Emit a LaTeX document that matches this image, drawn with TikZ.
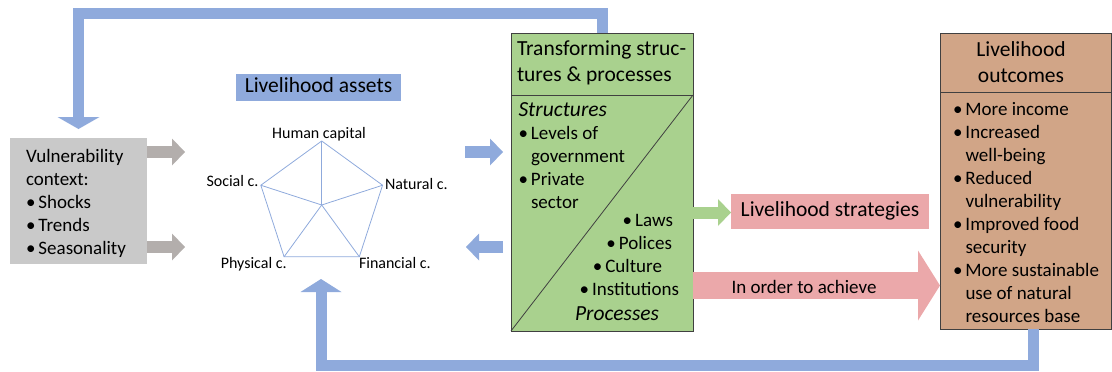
\documentclass[tikz,border=0pt]{standalone}
\usepackage{fontspec}
\setmainfont{Carlito}
\usetikzlibrary{arrows.meta}
\definecolor{fbblue}{HTML}{8FAADC}
\definecolor{grayarrow}{HTML}{B3AEAC}
\definecolor{vulfill}{HTML}{C9C9C9}
\definecolor{greenfill}{HTML}{A9D18E}
\definecolor{pinkfill}{HTML}{EBA8AA}
\definecolor{tanfill}{HTML}{D1A587}
\definecolor{boxborder}{HTML}{404040}
\newcommand{\bitem}[1]{\makebox[12.5pt][l]{\textbullet}#1}
\newcommand{\bcont}[1]{\hspace*{12.5pt}#1}
\newcommand{\bodyfont}{\fontsize{19}{23}\selectfont}
\newcommand{\titlefont}{\fontsize{21.5}{26}\selectfont}
\newcommand{\labfont}{\fontsize{16}{19}\selectfont}
\begin{document}
\begin{tikzpicture}[x=1pt,y=-1pt,
  plainbox/.style={draw=none,inner sep=0pt,outer sep=0pt},
  bigbox/.style={draw=boxborder,line width=1pt,inner sep=0pt,outer sep=0pt},
  txt/.style={inner sep=0pt,outer sep=0pt,anchor=base west},
  fb/.style={draw=fbblue,line width=11pt,line join=miter,line cap=butt},
  blockarr/.style={line width=12pt,-{Triangle[width=27pt,length=13pt,line width=0pt]}},
  pent/.style={draw=fbblue,line width=0.8pt}]
\useasboundingbox (0,0) rectangle (1112,372);

% main boxes
\node[plainbox,fill=vulfill,minimum width=137pt,minimum height=126pt] (vul) at (78.5,201) {};
\node[bigbox,fill=greenfill,minimum width=182pt,minimum height=298pt] (green) at (602,182) {};
\node[bigbox,fill=tanfill,minimum width=171pt,minimum height=296pt] (outc) at (1025.5,181) {};
\node[plainbox,fill=fbblue,minimum width=165pt,minimum height=27pt,text height=14pt,text depth=3.6pt,font=\titlefont] (assets) at (318.5,87.5) {Livelihood assets};
\node[plainbox,fill=pinkfill,minimum width=198pt,minimum height=35pt,text height=14pt,text depth=4pt,font=\titlefont] (strat) at (830,211.5) {Livelihood strategies};

% dividers in boxes
\coordinate (gdiv) at (602,95);
\draw[boxborder,line width=1pt] (green.west |- gdiv) -- (green.east |- gdiv);
\draw[boxborder,line width=0.8pt] (green.south west) -- (green.east |- gdiv);
\coordinate (odiv) at (1025,92);
\draw[boxborder,line width=1pt] (outc.west |- odiv) -- (outc.east |- odiv);

% vulnerability text
\node[txt] (vultxt) at (26,162) {\parbox[t]{120pt}{\raggedright\bodyfont Vulnerability\\context:\\\bitem{Shocks}\\\bitem{Trends}\\\bitem{Seasonality}}};

% green box text
\node[txt] (gtitle) at (517,55.5) {\parbox[t]{175pt}{\raggedright\titlefont Transforming struc-\\tures \& processes}};
\node[txt] (gstruct) at (518.5,116) {\parbox[t]{170pt}{\raggedright\bodyfont{\titlefont\itshape Structures}\\\bitem{Levels of}\\\bcont{government}\\\bitem{Private}\\\bcont{sector}}};
\node[txt,anchor=base east,font=\bodyfont] (laws) at (673,226) {\bitem{Laws}};
\node[txt,anchor=base east,font=\bodyfont] (polices) at (672,249) {\bitem{Polices}};
\node[txt,anchor=base east,font=\bodyfont] (culture) at (662,272) {\bitem{Culture}};
\node[txt,anchor=base east,font=\bodyfont] (instit) at (679,295) {\bitem{Institutions}};
\node[txt,anchor=base east,font=\titlefont\itshape] (procs) at (659,320) {Processes};

% outcomes text
\node[txt,anchor=base] (otitle) at (1021,56.5) {\parbox[t]{165pt}{\centering\titlefont Livelihood\\outcomes}};
\node[txt] (olist) at (953,115) {\parbox[t]{158pt}{\raggedright\bodyfont\bitem{More income}\\\bitem{Increased}\\\bcont{well-being}\\\bitem{Reduced}\\\bcont{vulnerability}\\\bitem{Improved food}\\\bcont{security}\\\bitem{More sustainable}\\\bcont{use of natural}\\\bcont{resources base}}};

% pentagon
\coordinate (pc) at (321.7,205);
\path (pc) ++(-90:64) coordinate (hc);
\path (pc) ++(-18:64) coordinate (nc);
\path (pc) ++(54:64) coordinate (fc);
\path (pc) ++(126:64) coordinate (pyc);
\path (pc) ++(198:64) coordinate (sc);
\draw[pent] (hc) -- (nc) -- (fc) -- (pyc) -- (sc) -- cycle;
\foreach \v in {hc,nc,fc,pyc,sc} \draw[pent] (pc) -- (\v);
\node[txt,anchor=base,font=\labfont] (lhum) at (319,138.3) {Human capital};
\node[txt,anchor=base east,font=\labfont] (lsoc) at (258.5,186.7) {Social c.};
\node[txt,anchor=base west,font=\labfont] (lnat) at (385,189) {Natural c.};
\node[txt,anchor=base,font=\labfont] (lphy) at (253.7,268.3) {Physical c.};
\node[txt,anchor=base west,font=\labfont] (lfin) at (359,268.3) {Financial c.};

% gray arrows
\coordinate (g1) at (185,152);
\coordinate (g2) at (185,247);
\draw[blockarr,grayarrow] (vul.east |- g1) -- (g1);
\draw[blockarr,grayarrow] (vul.east |- g2) -- (g2);

% blue small arrows
\coordinate (ba1s) at (465,152);
\coordinate (ba1e) at (503,152);
\coordinate (ba2s) at (503,247);
\coordinate (ba2e) at (466,247);
\draw[blockarr,fbblue] (ba1s) -- (ba1e);
\draw[blockarr,fbblue] (ba2s) -- (ba2e);

% green arrow
\coordinate (ga) at (700,212.5);
\draw[blockarr,greenfill] (green.east |- ga) -- (strat.west |- ga);

% pink big arrow
\coordinate (pa) at (700,285.5);
\draw[pinkfill,line width=27pt,-{Triangle[width=70pt,length=22pt,line width=0pt]}] (green.east |- pa) -- (outc.west |- pa);
\node[txt,font=\bodyfont] (ordertxt) at (731.5,293) {In order to achieve};

% feedback loops
\coordinate (t1) at (602.5,13.5);
\coordinate (t2) at (78.5,13.5);
\coordinate (t3) at (78.5,129);
\draw[fb,-{Triangle[width=42pt,length=12pt,line width=0pt]}] (green.north -| t1) -- (t1) -- (t2) -- (t3);
\coordinate (b1) at (1033,365.5);
\coordinate (b2) at (321,365.5);
\coordinate (b3) at (321,279);
\draw[fb,-{Triangle[width=41pt,length=13pt,line width=0pt]}] (outc.south -| b1) -- (b1) -- (b2) -- (b3);
\end{tikzpicture}
\end{document}
